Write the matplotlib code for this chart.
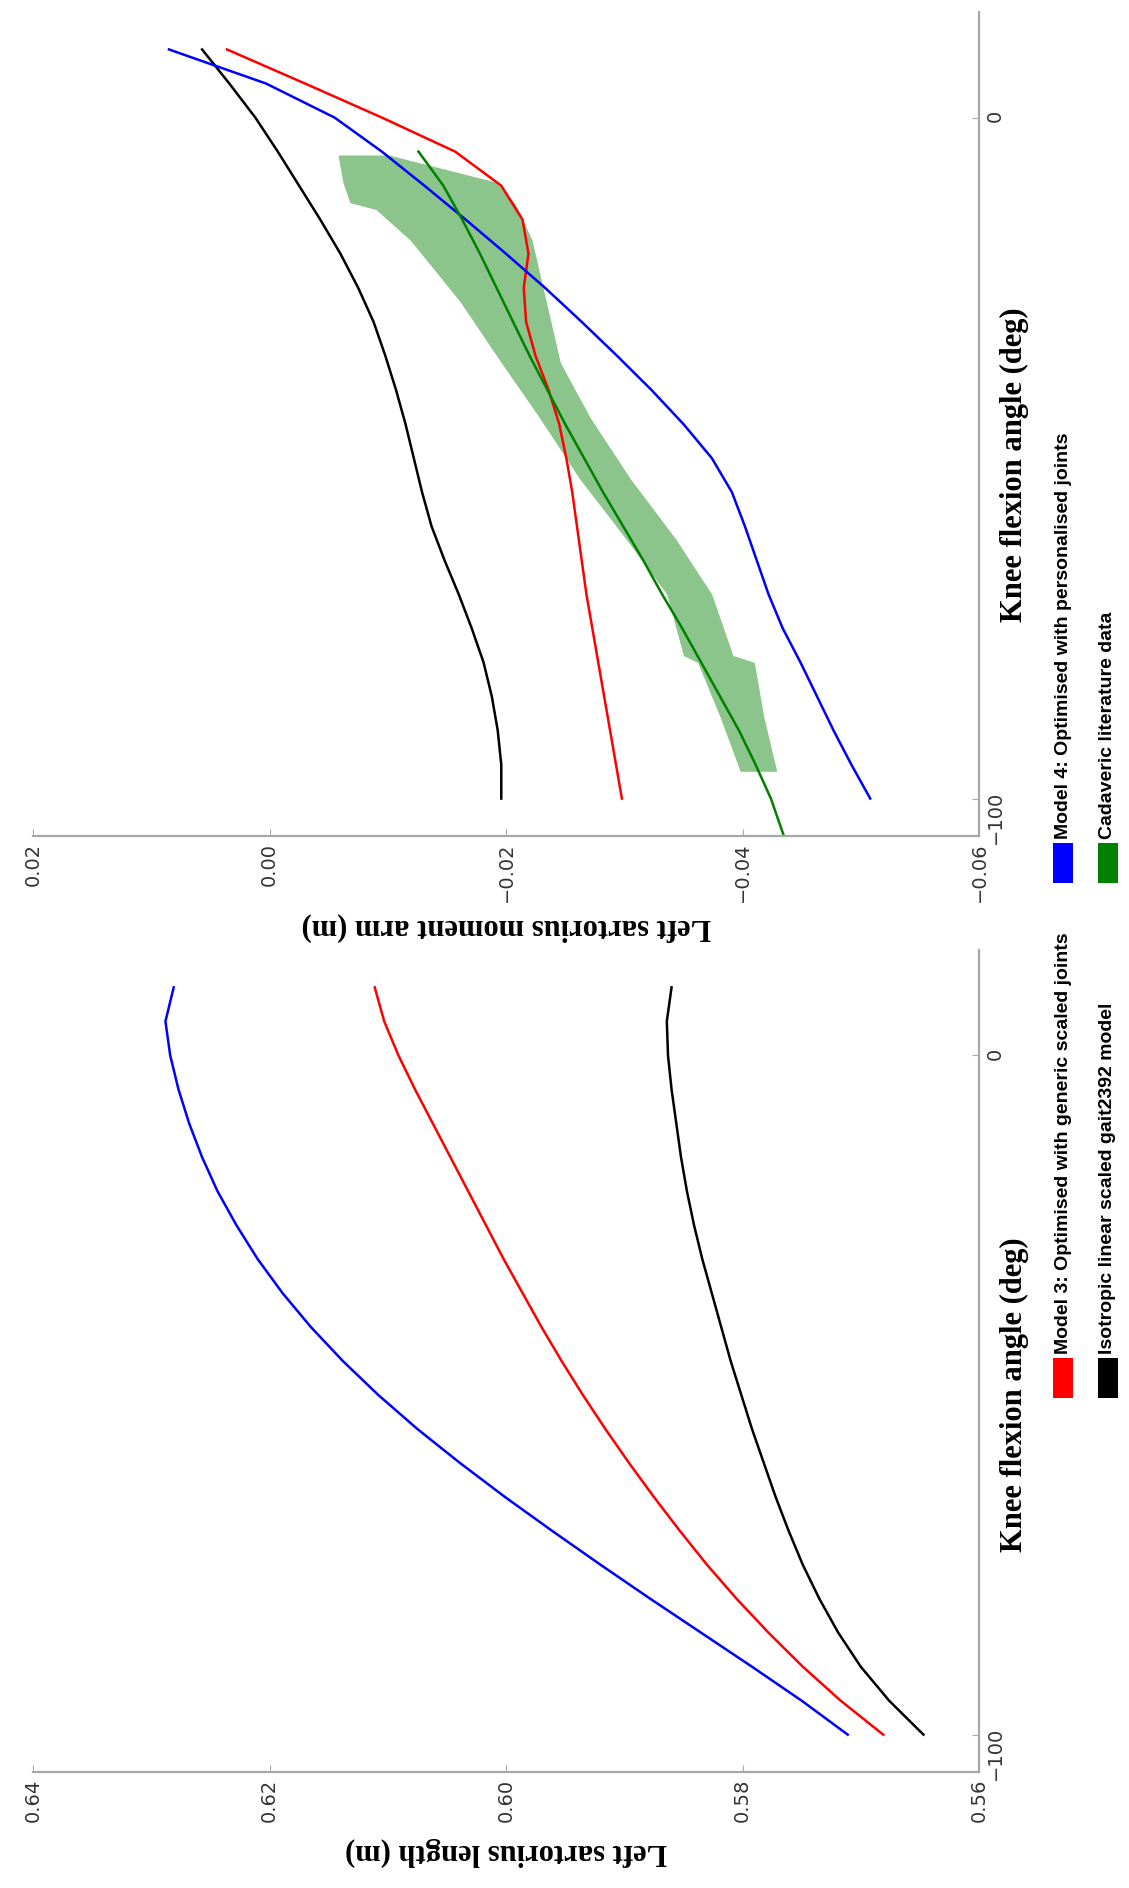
import matplotlib
matplotlib.use("Agg")
import matplotlib.pyplot as plt
from matplotlib.patches import Rectangle

# knee flexion angle (deg) shared by the model curves
angle = [-100, -95, -90, -85, -80, -75, -70, -65, -60, -55, -50, -45, -40,
         -35, -30, -25, -20, -15, -10, -5, 0, 5, 10]

# left sartorius length (m)
len_model4 = [0.5711, 0.5750, 0.5792, 0.5835, 0.5878, 0.5920, 0.5961, 0.6001,
              0.6039, 0.6075, 0.6108, 0.6138, 0.6165, 0.6189, 0.6210, 0.6228,
              0.6244, 0.6257, 0.6268, 0.6277, 0.6284, 0.6288, 0.6281]
len_model3 = [0.5681, 0.5717, 0.5749, 0.5778, 0.5805, 0.5830, 0.5853, 0.5875,
              0.5896, 0.5916, 0.5935, 0.5953, 0.5970, 0.5986, 0.6002, 0.6017,
              0.6032, 0.6047, 0.6062, 0.6077, 0.6091, 0.6103, 0.6111]
len_gait2392 = [0.5647, 0.5676, 0.5700, 0.5719, 0.5735, 0.5749, 0.5761, 0.5772,
                0.5782, 0.5792, 0.5801, 0.5810, 0.5818, 0.5826, 0.5834, 0.5841,
                0.5847, 0.5852, 0.5856, 0.5860, 0.5863, 0.5864, 0.5860]

# left sartorius moment arm (m)
arm_model4 = [-0.0508, -0.0492, -0.0477, -0.0463, -0.0449, -0.0434, -0.0422,
              -0.0412, -0.0402, -0.0391, -0.0374, -0.0350, -0.0323, -0.0294,
              -0.0264, -0.0233, -0.0200, -0.0166, -0.0131, -0.0095, -0.0055,
              0.0003, 0.0085]
arm_model3 = [-0.0298, -0.0293, -0.0288, -0.0283, -0.0278, -0.0273, -0.0268,
              -0.0264, -0.0260, -0.0256, -0.0251, -0.0245, -0.0236, -0.0225,
              -0.0217, -0.0215, -0.0219, -0.0214, -0.0196, -0.0157, -0.0095,
              -0.0030, 0.0036]
arm_gait2392 = [-0.0196, -0.0196, -0.0193, -0.0188, -0.0181, -0.0171, -0.0160,
                -0.0148, -0.0137, -0.0129, -0.0122, -0.0115, -0.0107, -0.0098,
                -0.0088, -0.0075, -0.0060, -0.0043, -0.0025, -0.0007, 0.0012,
                0.0034, 0.0057]

# cadaveric literature data: mean and spread
cad_angle = [-106, -100, -95, -90, -85, -80, -75, -70, -65, -60, -55, -50, -45,
             -40, -35, -30, -25, -20, -15, -10, -5]
cad_mean = [-0.0436, -0.0424, -0.0411, -0.0397, -0.0381, -0.0365, -0.0349,
            -0.0332, -0.0316, -0.0299, -0.0282, -0.0266, -0.0250, -0.0235,
            -0.0220, -0.0206, -0.0192, -0.0178, -0.0163, -0.0147, -0.0126]
band_angle = [-96, -88, -80, -79, -70, -62, -53, -44, -36, -27, -18, -13.5,
              -12.5, -9.5, -5.5]
band_upper = [-0.0398, -0.0381, -0.0362, -0.0350, -0.0336, -0.0302, -0.0262,
              -0.0228, -0.0196, -0.0161, -0.0119, -0.0090, -0.0068, -0.0062,
              -0.0058]
band_lower = [-0.0429, -0.0418, -0.0410, -0.0392, -0.0374, -0.0344, -0.0305,
              -0.0271, -0.0246, -0.0234, -0.0222, -0.0210, -0.0207, -0.0192,
              -0.0101]

len_ticks = [0.56, 0.58, 0.60, 0.62, 0.64]
arm_ticks = [-0.06, -0.04, -0.02, 0.00, 0.02]
angle_ticks = [-100, 0]

legend_labels = ["Model 3: Optimised with generic scaled joints",
                 "Isotropic linear scaled gait2392 model",
                 "Model 4: Optimised with personalised joints",
                 "Cadaveric literature data"]
legend_colors = ["red", "black", "blue", "green"]

W, H = 1129, 1888
fig = plt.figure(figsize=(W / 100, H / 100), dpi=100)


def fx(x):
    return x / W


def fy(y):
    return 1 - y / H


serif = dict(family="Liberation Serif", weight="bold", size=22)
spine_col = "#a8a8a8"
lw = 1.8

# the figure is drawn turned a quarter turn: angle runs up, values run right-to-left
ax_arm = fig.add_axes([fx(33), fy(836), 946 / W, 824 / H])
ax_len = fig.add_axes([fx(33), fy(1772), 946 / W, 822 / H])

ax_arm.fill_betweenx(band_angle, band_lower, band_upper, color="green",
                     alpha=0.45, lw=0)
ax_arm.plot(arm_gait2392, angle, color="black", lw=lw)
ax_arm.plot(arm_model3, angle, color="red", lw=lw)
ax_arm.plot(arm_model4, angle, color="blue", lw=lw)
ax_arm.plot(cad_mean, cad_angle, color="green", lw=lw)
ax_arm.set_xlim(0.02, -0.06)
ax_arm.set_xticks(arm_ticks)

ax_len.plot(len_model4, angle, color="blue", lw=lw)
ax_len.plot(len_model3, angle, color="red", lw=lw)
ax_len.plot(len_gait2392, angle, color="black", lw=lw)
ax_len.set_xlim(0.64, 0.56)
ax_len.set_xticks(len_ticks)

for ax in (ax_arm, ax_len):
    ax.set_ylim(-105.5, 15.5)
    ax.set_yticks(angle_ticks)
    ax.yaxis.tick_right()
    ax.spines["top"].set_visible(False)
    ax.spines["left"].set_visible(False)
    for s in ("bottom", "right"):
        ax.spines[s].set_color(spine_col)
        ax.spines[s].set_linewidth(1.6)
    ax.tick_params(axis="both", direction="in", length=5, color=spine_col,
                   labelsize=14, labelcolor="#333333", labelrotation=90, pad=5)

# axis titles
fig.text(fx(506), fy(927), "Left sartorius moment arm (m)", rotation=180,
         ha="center", va="center", **serif)
fig.text(fx(506), fy(1852), "Left sartorius length (m)", rotation=180,
         ha="center", va="center", **serif)
fig.text(fx(1014), fy(465), "Knee flexion angle (deg)", rotation=90,
         ha="center", va="center", **serif)
fig.text(fx(1014), fy(1395), "Knee flexion angle (deg)", rotation=90,
         ha="center", va="center", **serif)

# legend, two rows under the original layout, now two columns on the right
row_x = [1063, 1108, 1063, 1108]
start_y = [1398, 1398, 883, 883]
for lab, col, rx, sy in zip(legend_labels, legend_colors, row_x, start_y):
    fig.add_artist(Rectangle((fx(rx - 10), fy(sy)), 20 / W, 40 / H,
                             transform=fig.transFigure, color=col, lw=0))
    fig.text(fx(rx), fy(sy - 44), lab, rotation=90, ha="center", va="bottom",
             family="Liberation Sans", weight="bold", size=14)

fig.savefig("out.png", dpi=100)
